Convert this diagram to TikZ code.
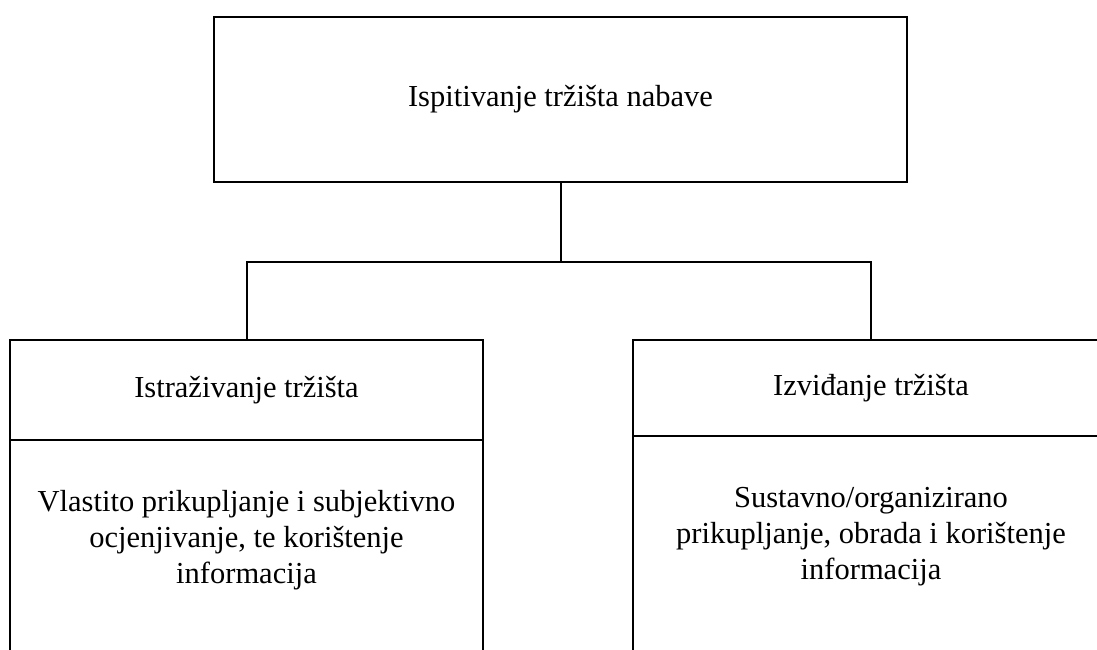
\documentclass[tikz,border=0pt]{standalone}
\usepackage{fontspec}
\setmainfont{Liberation Serif}
\begin{document}
\begin{tikzpicture}[x=1pt,y=-1pt,
  box/.style={draw, line width=2pt, inner sep=0pt, outer sep=0pt, align=center},
  lbl/.style={inner sep=0pt, align=center, font=\fontsize{30.5}{36}\selectfont},
  link/.style={line width=2pt}]
\useasboundingbox (0,0) rectangle (1097,650);
\clip (0,0) rectangle (1097,650);
% top box
\node[box, minimum width=693pt, minimum height=165pt] (top) at (560.5,99.5) {};
\node[lbl] (toptext) at (top.center) {Ispitivanje tržišta nabave};
% left column
\node[box, minimum width=473pt, minimum height=100pt] (lhead) at (246.5,390) {};
\node[lbl] (lheadtext) at (lhead.center) {Istraživanje tržišta};
\node[box, minimum width=473pt, minimum height=320pt, anchor=north] (lbody) at (lhead.south) {};
\node[lbl] (lbodytext) at (246.5,540) {Vlastito prikupljanje i subjektivno\\ocjenjivanje, te korištenje\\informacija};
% right column
\node[box, minimum width=476pt, minimum height=96pt] (rhead) at (871,388) {};
\node[lbl] (rheadtext) at (rhead.center) {Izviđanje tržišta};
\node[box, minimum width=476pt, minimum height=320pt, anchor=north] (rbody) at (rhead.south) {};
\node[lbl] (rbodytext) at (871,537) {Sustavno/organizirano\\prikupljanje, obrada i korištenje\\informacija};
% connectors
\coordinate (j) at (560.5,262);
\draw[link] (top.south) -- (j);
\draw[link] (lhead.north) |- (j) -| (rhead.north);
\end{tikzpicture}
\end{document}
